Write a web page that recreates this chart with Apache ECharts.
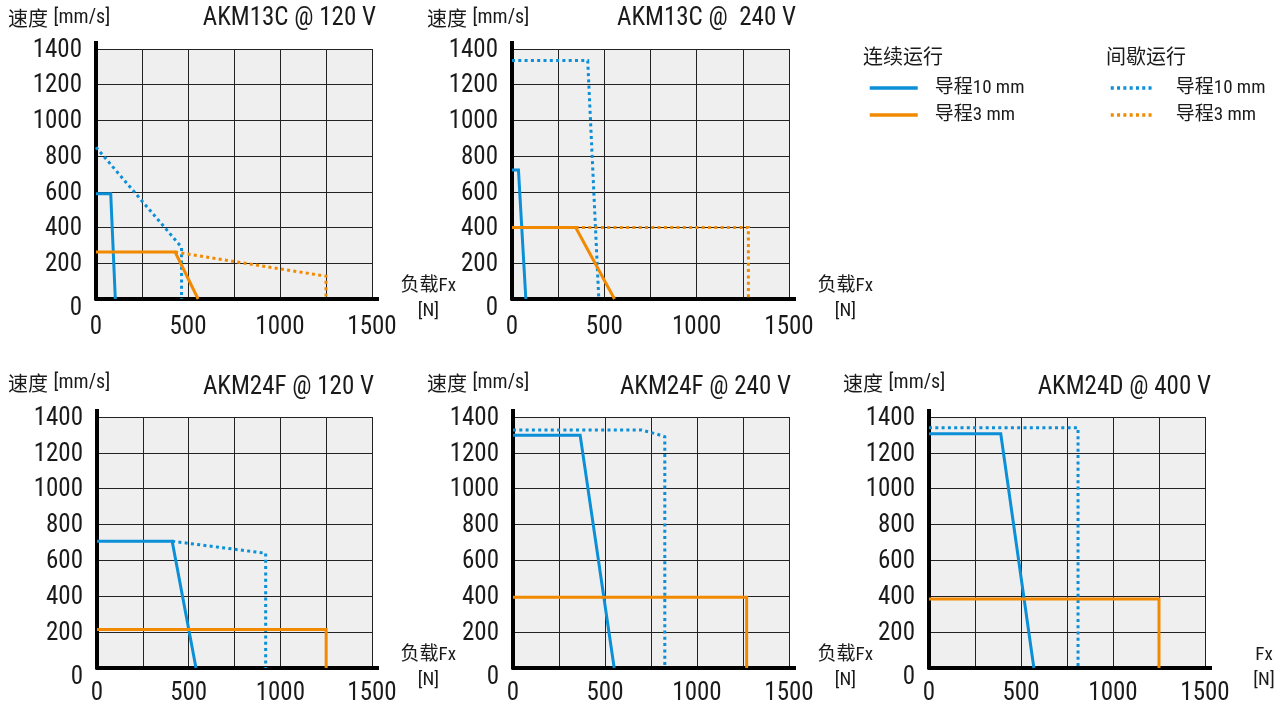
<!DOCTYPE html>
<html><head><meta charset="utf-8">
<script src="https://cdn.jsdelivr.net/npm/echarts@6/dist/echarts.min.js"></script>
<style>html,body{margin:0;padding:0;background:#fff}#c{width:1281px;height:707px}</style>
</head><body><div id="c"></div>
<script>
// ---------- data ----------
const xLabeled = [0, 500, 1000, 1500];
const yTickValues = [0, 200, 400, 600, 800, 1000, 1200, 1400];
const panelTitles = ['AKM13C @ 120 V', 'AKM13C @  240 V', 'AKM24F @ 120 V', 'AKM24F @ 240 V', 'AKM24D @ 400 V'];
const xAxisNames = ['负载Fx\n[N]', '负载Fx\n[N]', '负载Fx\n[N]', '负载Fx\n[N]', 'Fx\n[N]'];
const yAxisLabel = '速度';
const yAxisUnit = '[mm/s]';
const legendHeaders = ['连续运行', '间歇运行'];
const legendNames = { c10: '导程10 mm', c3: '导程3 mm', i10: '导程10 mm', i3: '导程3 mm' };

// AKM13C @ 120 V
const p1_cont10 = [[0, 590], [80, 590], [105, 0]];
const p1_int10  = [[0, 850], [465, 290], [465, 0]];
const p1_cont3  = [[0, 263], [430, 263], [555, 0]];
const p1_int3   = [[430, 263], [1250, 128], [1250, 0]];
// AKM13C @ 240 V
const p2_cont10 = [[0, 722], [35, 722], [75, 0]];
const p2_int10  = [[0, 1335], [410, 1335], [470, 0]];
const p2_cont3  = [[0, 400], [345, 400], [555, 0]];
const p2_int3   = [[345, 400], [1280, 400], [1280, 0]];
// AKM24F @ 120 V
const p3_cont10 = [[0, 707], [410, 707], [540, 0]];
const p3_int10  = [[410, 707], [920, 640], [920, 0]];
const p3_cont3  = [[0, 215], [1250, 215], [1250, 0]];
// AKM24F @ 240 V
const p4_cont10 = [[0, 1298], [365, 1298], [550, 0]];
const p4_int10  = [[0, 1327], [700, 1327], [780, 1305], [825, 1290], [825, 0]];
const p4_cont3  = [[0, 395], [1270, 395], [1270, 0]];
// AKM24D @ 400 V
const p5_cont10 = [[0, 1307], [390, 1307], [570, 0]];
const p5_int10  = [[0, 1340], [810, 1340], [810, 0]];
const p5_cont3  = [[0, 385], [1250, 385], [1250, 0]];

const panels = [
  [['c10', p1_cont10], ['i10', p1_int10], ['c3', p1_cont3], ['i3', p1_int3]],
  [['c10', p2_cont10], ['i10', p2_int10], ['c3', p2_cont3], ['i3', p2_int3]],
  [['c10', p3_cont10], ['i10', p3_int10], ['c3', p3_cont3]],
  [['c10', p4_cont10], ['i10', p4_int10], ['c3', p4_cont3]],
  [['c10', p5_cont10], ['i10', p5_int10], ['c3', p5_cont3]]
];

// ---------- style / layout ----------
const NARROW = "'Roboto Condensed','Liberation Sans Narrow','DejaVu Sans Condensed','Noto Sans CJK SC',sans-serif";
const CJK = "'Noto Sans CJK SC',sans-serif";
const BLUE = '#0b8fd7', ORANGE = '#f18a00', INK = '#1a1a1a';
const DOT = [3, 3.3];
const seriesStyle = {
  c10: { color: BLUE, type: 'solid' },
  i10: { color: BLUE, type: DOT },
  c3: { color: ORANGE, type: 'solid' },
  i3: { color: ORANGE, type: DOT }
};
const grids = [
  { left: 96, top: 49, width: 276, height: 250 },
  { left: 512, top: 49, width: 277, height: 250 },
  { left: 97, top: 417, width: 275, height: 251 },
  { left: 513, top: 417, width: 276, height: 251 },
  { left: 929, top: 417, width: 276, height: 251 }
];
const titleRight = [376, 796, 374, 791, 1211];
const titleTop = [6, 6, 375, 375, 375];
const unitLeft = [8, 427, 8, 427, 843];
const unitTop = [8, 8, 373, 373, 373];
const nameGaps = [53, 53, 53, 53, 59];
const xLabelMargin = [16, 16, 13, 13, 13];

const option = {
  animation: false,
  backgroundColor: '#fff',
  grid: grids.map(g => Object.assign({ show: true, backgroundColor: '#efefef', borderWidth: 0, containLabel: false }, g)),
  xAxis: grids.map((g, i) => ({
    type: 'value', gridIndex: i, min: 0, max: 1500, interval: 250,
    axisLine: { show: true, onZero: false, lineStyle: { color: '#000', width: 4 } },
    axisTick: { show: false },
    splitLine: { show: true, lineStyle: { color: '#222', width: 1 } },
    axisLabel: {
      margin: xLabelMargin[i], color: INK, fontSize: 25, fontFamily: NARROW,
      formatter: v => xLabeled.indexOf(v) >= 0 ? String(v) : ''
    },
    name: xAxisNames[i], nameLocation: 'end', nameGap: nameGaps[i],
    nameTextStyle: { align: 'center', verticalAlign: 'middle', fontSize: 19, lineHeight: 25, color: INK, fontFamily: NARROW }
  })),
  yAxis: grids.map((g, i) => ({
    type: 'value', gridIndex: i, min: 0, max: 1400, interval: 200,
    axisLine: { show: true, onZero: false, lineStyle: { color: '#000', width: 4 } },
    axisTick: { show: false },
    splitLine: { show: true, lineStyle: { color: '#222', width: 1 } },
    axisLabel: {
      margin: 14, color: INK, fontSize: 25, fontFamily: NARROW, padding: [3, 0, 0, 0],
      formatter: v => yTickValues.indexOf(v) === 0 ? '{z|' + v + '}' : String(v),
      rich: { z: { padding: [16, 0, 0, 0], fontSize: 25, fontFamily: NARROW, color: INK } }
    }
  })),
  title: [].concat(
    panelTitles.map((t, i) => ({
      text: t, right: 1281 - titleRight[i], top: titleTop[i], padding: 0,
      textStyle: { fontSize: 25, fontWeight: 'normal', color: INK, fontFamily: NARROW }
    })),
    unitLeft.map((l, i) => ({
      text: '{a|' + yAxisLabel + '} {b|' + yAxisUnit + '}', left: l, top: unitTop[i], padding: 0,
      textStyle: {
        fontWeight: 'normal', fontSize: 20, color: INK,
        rich: {
          a: { fontSize: 20, fontWeight: 'normal', color: INK, fontFamily: CJK },
          b: { fontSize: 20, fontWeight: 'normal', color: INK, fontFamily: NARROW }
        }
      }
    })),
    [
      { text: legendHeaders[0], left: 863, top: 46, padding: 0, textStyle: { fontSize: 20, fontWeight: 'normal', color: INK, fontFamily: CJK } },
      { text: legendHeaders[1], left: 1106, top: 46, padding: 0, textStyle: { fontSize: 20, fontWeight: 'normal', color: INK, fontFamily: CJK } }
    ]
  ),
  legend: [
    {
      data: ['c10', 'c3'], orient: 'vertical', left: 868, top: 78, padding: 0,
      itemWidth: 48, itemHeight: 14, itemGap: 7, selectedMode: false,
      itemStyle: { opacity: 0 }, lineStyle: { width: 3.5 },
      formatter: n => legendNames[n],
      textStyle: { fontSize: 19, lineHeight: 20, color: INK, fontFamily: NARROW, padding: [0, 0, 0, 12] }
    },
    {
      data: ['i10', 'i3'], orient: 'vertical', left: 1109, top: 78, padding: 0,
      itemWidth: 44, itemHeight: 14, itemGap: 7, selectedMode: false,
      itemStyle: { opacity: 0 }, lineStyle: { width: 3.5 },
      formatter: n => legendNames[n],
      textStyle: { fontSize: 19, lineHeight: 20, color: INK, fontFamily: NARROW, padding: [0, 0, 0, 16] }
    }
  ],
  series: []
};

panels.forEach((list, gi) => {
  list.forEach(([key, data]) => {
    const st = seriesStyle[key];
    option.series.push({
      type: 'line', name: key, xAxisIndex: gi, yAxisIndex: gi, data: data,
      showSymbol: false, symbol: 'none', silent: true,
      color: st.color,
      lineStyle: { color: st.color, width: 3, type: st.type, cap: 'butt', join: 'miter' },
      z: key[0] === 'i' ? 3 : 4
    });
  });
});

const chart = echarts.init(document.getElementById('c'), null, { renderer: 'canvas' });
chart.setOption(option);

// extend thick axis lines slightly beyond the plot (top of y axis, right of x axis)
const ext = [];
grids.forEach((g, i) => {
  const tl = chart.convertToPixel({ xAxisIndex: i, yAxisIndex: i }, [0, 1400]);
  const br = chart.convertToPixel({ xAxisIndex: i, yAxisIndex: i }, [1500, 0]);
  ext.push({ type: 'line', shape: { x1: tl[0], y1: tl[1] - 8, x2: tl[0], y2: tl[1] + 1 }, style: { stroke: '#000', lineWidth: 4 }, z: 10 });
  ext.push({ type: 'line', shape: { x1: br[0] - 1, y1: br[1], x2: br[0] + 7, y2: br[1] }, style: { stroke: '#000', lineWidth: 4 }, z: 10 });
});
chart.setOption({ graphic: ext });
</script></body></html>
